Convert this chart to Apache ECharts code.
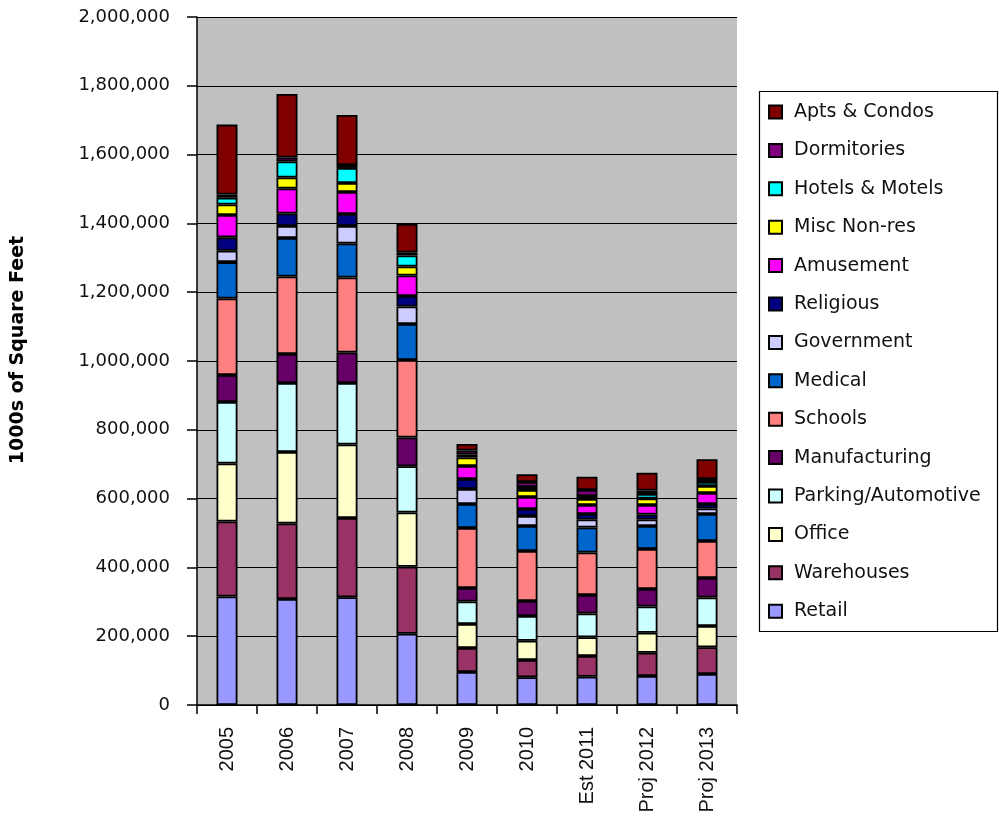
<!DOCTYPE html>
<html>
<head>
<meta charset="utf-8">
<title>Construction floor space by building type</title>
<script src="https://cdn.jsdelivr.net/npm/echarts@6/dist/echarts.min.js"></script>
<style>
  html, body { margin: 0; padding: 0; background: #ffffff; }
  #chart { width: 999px; height: 816px; }
</style>
</head>
<body>
<div id="chart"></div>
<script>
// Floor space started, in 1000s of square feet, by building type
const categories = ['2005', '2006', '2007', '2008', '2009', '2010', 'Est 2011', 'Proj 2012', 'Proj 2013'];

const retail        = [315400, 308100, 313100, 207300, 95900, 80500, 82300, 84300, 90100];
const warehouses    = [218000, 219500, 230500, 194800, 69800, 50300, 60200, 67700, 77600];
const office        = [168600, 207900, 213700, 157600, 69800, 56100, 54400, 58100, 61900];
const parking       = [179000, 200600, 178800, 134300, 65400, 71800, 69200, 76200, 82800];
const manufacturing = [78500, 84300, 88700, 83700, 39200, 43600, 53800, 50900, 56700];
const schools       = [222000, 225300, 218000, 225300, 174400, 145400, 123500, 116300, 107600];
const medical       = [106000, 112000, 98800, 104700, 69800, 72700, 72700, 66900, 78500];
const government    = [33000, 34900, 50900, 50900, 43600, 29100, 23300, 18900, 16000];
const religious     = [39000, 36300, 34900, 30500, 29100, 20300, 16000, 14500, 13100];
const amusement     = [65000, 72700, 64000, 59600, 37800, 34900, 26200, 27600, 32000];
const miscNonRes    = [30500, 32000, 26200, 26200, 24700, 20300, 17400, 18900, 20300];
const hotels        = [20000, 46500, 43600, 32000, 8700, 8700, 8700, 13100, 11600];
const dormitories   = [8700, 11600, 8700, 8700, 11600, 14500, 17400, 10200, 8700];
const apartments    = [203500, 184600, 145400, 82800, 18900, 22400, 38700, 51700, 57300];

const yTicks = [0, 200000, 400000, 600000, 800000, 1000000, 1200000, 1400000, 1600000, 1800000, 2000000];

// Stack order, bottom to top
const layers = [
  { name: 'Retail', data: retail, color: '#9999FF' },
  { name: 'Warehouses', data: warehouses, color: '#993366' },
  { name: 'Office', data: office, color: '#FFFFCC' },
  { name: 'Parking/Automotive', data: parking, color: '#CCFFFF' },
  { name: 'Manufacturing', data: manufacturing, color: '#660066' },
  { name: 'Schools', data: schools, color: '#FF8080' },
  { name: 'Medical', data: medical, color: '#0066CC' },
  { name: 'Government', data: government, color: '#CCCCFF' },
  { name: 'Religious', data: religious, color: '#000080' },
  { name: 'Amusement', data: amusement, color: '#FF00FF' },
  { name: 'Misc Non-res', data: miscNonRes, color: '#FFFF00' },
  { name: 'Hotels & Motels', data: hotels, color: '#00FFFF' },
  { name: 'Dormitories', data: dormitories, color: '#800080' },
  { name: 'Apts & Condos', data: apartments, color: '#800000' }
];

function withCommas(v) {
  return String(v).replace(/\B(?=(\d{3})+(?!\d))/g, ',');
}

const chart = echarts.init(document.getElementById('chart'), null, { renderer: 'canvas' });

chart.setOption({
  animation: false,
  backgroundColor: '#ffffff',
  grid: {
    left: 197, right: 262, top: 17, bottom: 111,
    show: true, backgroundColor: '#C0C0C0', borderWidth: 0,
    containLabel: false
  },
  legend: {
    orient: 'vertical',
    left: 768, top: 102,
    padding: 0,
    itemWidth: 13, itemHeight: 13,
    itemGap: 18.4,
    icon: 'rect',
    selectedMode: false,
    data: layers.map(l => l.name).reverse(),
    textStyle: {
      fontFamily: 'DejaVu Sans', fontSize: 19, color: '#111111',
      lineHeight: 20, padding: [0, 0, 0, 7]
    }
  },
  xAxis: {
    type: 'category',
    data: categories,
    boundaryGap: true,
    axisLine: { show: true, lineStyle: { color: '#000000', width: 1.5 } },
    axisTick: { show: true, interval: 0, length: 9, lineStyle: { color: '#000000', width: 1.5 } },
    axisLabel: {
      interval: 0, rotate: 90, margin: 22,
      fontFamily: 'Liberation Sans, Arial', fontSize: 20, color: '#111111'
    },
    splitLine: { show: false }
  },
  yAxis: {
    type: 'value',
    min: yTicks[0], max: yTicks[yTicks.length - 1], interval: 200000,
    axisLine: { show: true, lineStyle: { color: '#000000', width: 1.5 } },
    axisTick: { show: true, length: 10, lineStyle: { color: '#000000', width: 1.5 } },
    axisLabel: {
      margin: 27,
      fontFamily: 'DejaVu Sans', fontSize: 18, color: '#111111',
      formatter: v => withCommas(v)
    },
    splitLine: { show: true, lineStyle: { color: '#000000', width: 1.2 } }
  },
  graphic: [
    {
      type: 'rect',
      shape: { x: 759.5, y: 91.5, width: 238, height: 540 },
      style: { fill: 'none', stroke: '#000000', lineWidth: 1.2 },
      z: 0
    },
    {
      type: 'text',
      x: 18, y: 350,
      rotation: Math.PI / 2,
      style: {
        text: '1000s of Square Feet',
        font: 'bold 19px "DejaVu Sans"',
        fill: '#000000',
        textAlign: 'center',
        textVerticalAlign: 'middle'
      }
    }
  ],
  series: layers.map(l => ({
    name: l.name,
    type: 'bar',
    stack: 'total',
    barWidth: 21,
    data: l.data,
    itemStyle: { color: l.color, borderColor: '#000000', borderWidth: 1.8 },
    emphasis: { disabled: true }
  }))
});
</script>
</body>
</html>
